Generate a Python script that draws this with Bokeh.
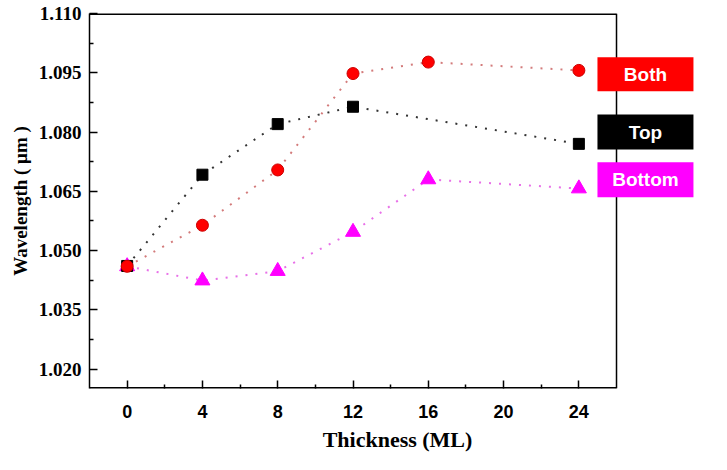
from bokeh.plotting import figure
from bokeh.models import FixedTicker, Range1d, Label, BoxAnnotation, NumeralTickFormatter
from bokeh.embed import file_html
from bokeh.resources import INLINE

# ---- data ----
tick_labels = ["0", "4", "8", "12", "16", "20", "24"]

both_thk = ["0", "4", "8", "12", "16", "24"]
both_wl = [1.0460, 1.0564, 1.0704, 1.0948, 1.0977, 1.0956]

top_thk = ["0", "4", "8", "12", "24"]
top_wl = [1.0461, 1.0692, 1.0820, 1.0864, 1.0770]

bottom_thk = ["0", "4", "8", "12", "16", "24"]
bottom_wl = [1.0460, 1.0424, 1.0448, 1.0547, 1.0680, 1.0657]

y_ticks = [1.020, 1.035, 1.050, 1.065, 1.080, 1.095, 1.110]


def pos(labels):
    return [tick_labels.index(t) for t in labels]


# plot box bounds (axis box) and an extended frame so the side labels fit
X_LO, X_HI = -0.5, len(tick_labels) - 0.5
Y_LO, Y_HI = 1.01508, 1.110
X_FRAME_END = 7.682

p = figure(width=711, height=454, output_backend="svg", toolbar_location=None,
           x_range=Range1d(X_LO, X_FRAME_END), y_range=Range1d(Y_LO, Y_HI))
p.min_border_left = 89
p.min_border_right = 6
p.min_border_top = 13
p.min_border_bottom = 55
p.grid.visible = False
p.outline_line_color = None
p.background_fill_color = "white"
p.border_fill_color = "white"

# box spines (top, bottom half-clipped by frame -> doubled width)
p.segment(x0=[X_LO, X_LO], y0=[Y_LO, Y_HI], x1=[X_HI, X_HI], y1=[Y_LO, Y_HI],
          line_color="black", line_width=3)
p.segment(x0=[X_HI], y0=[Y_LO], x1=[X_HI], y1=[Y_HI], line_color="black", line_width=1.5)

# lines
p.line(pos(bottom_thk), bottom_wl, line_color="#e040e0", line_width=2, line_dash="2 8", line_alpha=0.75)
p.line(pos(top_thk), top_wl, line_color="#333333", line_width=2, line_dash="2 8")
p.line(pos(both_thk), both_wl, line_color="#c85a5a", line_width=2, line_dash="2 8", line_alpha=0.8)

# markers
p.scatter(pos(bottom_thk), bottom_wl, marker="triangle", size=15, fill_color="#ff00ff", line_color="#ff00ff")
p.scatter(pos(top_thk), top_wl, marker="square", size=11, fill_color="black", line_color="black")
p.scatter(pos(both_thk), both_wl, marker="circle", size=12, fill_color="#ff0000", line_color="#cc0000")

# axes
xa = p.xaxis[0]
xa.ticker = FixedTicker(ticks=list(range(len(tick_labels))),
                        minor_ticks=[i + 0.5 for i in range(0, len(tick_labels) - 1)])
xa.major_label_overrides = {i: t for i, t in enumerate(tick_labels)}
xa.axis_label = "Thickness (ML)"
xa.axis_line_color = None

ya = p.yaxis[0]
ya.ticker = FixedTicker(ticks=y_ticks,
                        minor_ticks=[t + 0.0075 for t in y_ticks[:-1]])
ya.formatter = NumeralTickFormatter(format="0.000")
ya.axis_label = "Wavelength ( \u03bcm )"
ya.axis_line_color = "black"
ya.axis_line_width = 1.5

for ax in (xa, ya):
    ax.major_tick_in = 8
    ax.major_tick_out = 0
    ax.minor_tick_in = 4
    ax.minor_tick_out = 0
    ax.major_tick_line_color = "black"
    ax.minor_tick_line_color = "black"
    ax.major_tick_line_width = 1.5
    ax.minor_tick_line_width = 1.5
    ax.axis_label_text_font = "Liberation Serif"
    ax.axis_label_text_font_style = "bold"
    ax.axis_label_text_color = "black"
    ax.major_label_text_color = "black"

xa.major_label_text_font = "Liberation Sans"
xa.major_label_text_font_style = "bold"
xa.major_label_text_font_size = "18px"
xa.major_label_standoff = 16
xa.axis_label_text_font_size = "22px"
xa.axis_label_standoff = 6

ya.major_label_text_font = "Liberation Serif"
ya.major_label_text_font_style = "bold"
ya.major_label_text_font_size = "19px"
ya.major_label_standoff = 8
ya.axis_label_text_font_size = "19px"
ya.axis_label_standoff = 5

# side labels (layout positions)
box_left, box_right = 6.247, 7.522
boxes = [
    ("Both", "#ff0000", 1.09033, 1.09893),
    ("Top", "#000000", 1.07557, 1.08443),
    ("Bottom", "#ff00ff", 1.06352, 1.07238),
]
for name, col, b, t in boxes:
    p.add_layout(BoxAnnotation(left=box_left, right=box_right, bottom=b, top=t,
                               fill_color=col, fill_alpha=1.0, line_color=None))
    p.add_layout(Label(x=(box_left + box_right) / 2, y=(b + t) / 2, text=name,
                       text_align="center", text_baseline="middle",
                       text_color="white", text_font="Liberation Sans",
                       text_font_style="bold", text_font_size="19px"))

open("out.html", "w").write(file_html(p, INLINE))
